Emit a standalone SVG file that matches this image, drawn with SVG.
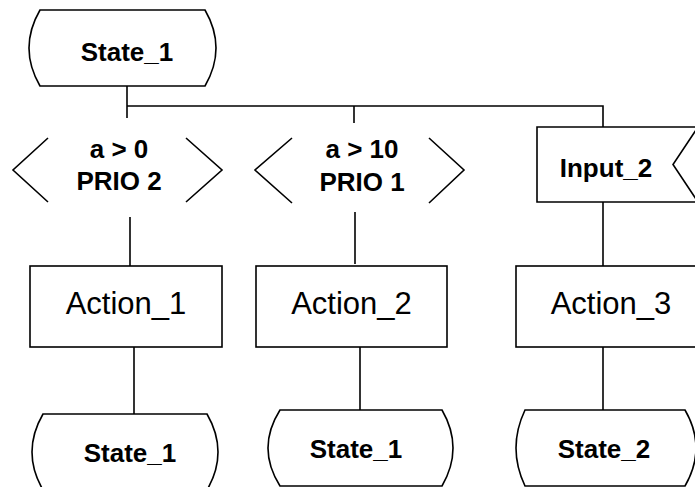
<svg xmlns="http://www.w3.org/2000/svg" width="695" height="487" viewBox="0 0 695 487">
  <style>
    .shape { fill: #ffffff; stroke: #000000; stroke-width: 1.6; }
    .open { fill: none; stroke: #000000; stroke-width: 1.6; }
    .wire { fill: none; stroke: #000000; stroke-width: 1.6; }
    .bold { font-family: "Liberation Sans", Arial, sans-serif; font-weight: bold; font-size: 26px; fill: #000000; text-anchor: middle; }
    .plain { font-family: "Liberation Sans", Arial, sans-serif; font-size: 31px; fill: #000000; text-anchor: middle; }
  </style>
  <rect width="695" height="487" fill="#ffffff"/>

  <!-- connectors -->
  <g id="connectors">
    <path class="wire" d="M127,86 V118"/>
    <path class="wire" d="M127,106 H603 V127"/>
    <path class="wire" d="M354,106 V123"/>
    <path class="wire" d="M130,217 V266"/>
    <path class="wire" d="M355,212 V264"/>
    <path class="wire" d="M603,202 V266"/>
    <path class="wire" d="M134,347 V414"/>
    <path class="wire" d="M360,347 V410"/>
    <path class="wire" d="M603,347 V410"/>
  </g>

  <!-- start state -->
  <g id="state-top">
    <path class="shape" d="M40,10 H205 Q227,48 205,86 H40 Q18,48 40,10 Z"/>
    <text class="bold" x="127" y="61">State_1</text>
  </g>

  <!-- decision: a > 0 -->
  <g id="cond-1">
    <path class="open" d="M48,138 L13,170 L48,202"/>
    <path class="open" d="M186,138 L222,170 L186,202"/>
    <text class="bold" x="119" y="158">a &gt; 0</text>
    <text class="bold" x="119" y="190">PRIO 2</text>
  </g>

  <!-- decision: a > 10 -->
  <g id="cond-2">
    <path class="open" d="M292,138 L255,170 L292,203"/>
    <path class="open" d="M429,138 L464,170 L429,203"/>
    <text class="bold" x="362" y="158">a &gt; 10</text>
    <text class="bold" x="362" y="191">PRIO 1</text>
  </g>

  <!-- input signal -->
  <g id="input-2">
    <path class="shape" d="M537,127 H698 L673,164.5 L698,202 H537 Z"/>
    <text class="bold" x="606" y="177">Input_2</text>
  </g>

  <!-- actions -->
  <g id="action-1">
    <rect class="shape" x="30" y="266" width="192" height="81"/>
    <text class="plain" x="126" y="314">Action_1</text>
  </g>
  <g id="action-2">
    <rect class="shape" x="256" y="266" width="191" height="81"/>
    <text class="plain" x="351.5" y="314">Action_2</text>
  </g>
  <g id="action-3">
    <rect class="shape" x="516" y="266" width="190" height="81"/>
    <text class="plain" x="611" y="314">Action_3</text>
  </g>

  <!-- next states -->
  <g id="state-next-1">
    <path class="shape" d="M43,414 H207 Q229,452 207,490 H43 Q21,452 43,414 Z"/>
    <text class="bold" x="130" y="462">State_1</text>
  </g>
  <g id="state-next-2">
    <path class="shape" d="M280,410 H442 Q464,448 442,486 H280 Q256,448 280,410 Z"/>
    <text class="bold" x="356" y="458">State_1</text>
  </g>
  <g id="state-next-3">
    <path class="shape" d="M525,410 H685 Q707,448 685,486 H525 Q507,448 525,410 Z"/>
    <text class="bold" x="604" y="458">State_2</text>
  </g>
</svg>
